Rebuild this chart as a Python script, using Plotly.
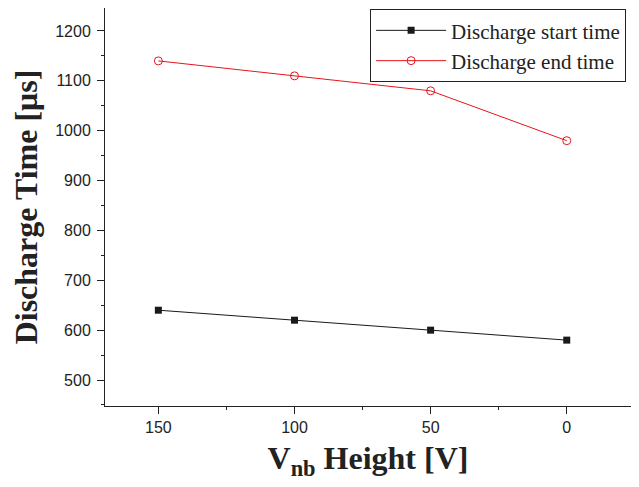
import plotly.graph_objects as go

vnb = [150, 100, 50, 0]
start_time = [640, 620, 600, 580]
end_time = [1140, 1110, 1080, 980]
x_ticks = [150, 100, 50, 0]
y_ticks = [500, 600, 700, 800, 900, 1000, 1100, 1200]

serif = "Liberation Serif, Times New Roman, serif"
sans = "Liberation Sans, Arial, sans-serif"

fig = go.Figure()
fig.add_trace(go.Scatter(
    x=vnb, y=start_time, mode="lines+markers", name="Discharge start time",
    line=dict(color="#1a1a1a", width=1),
    marker=dict(symbol="square", size=7, color="#1a1a1a"),
))
fig.add_trace(go.Scatter(
    x=vnb, y=end_time, mode="lines+markers", name="Discharge end time",
    line=dict(color="#e8141c", width=1),
    marker=dict(symbol="circle-open", size=8, color="#e8141c", line=dict(width=1)),
))

fig.update_layout(
    width=623, height=479,
    margin=dict(l=97, r=0, t=0, b=81),
    paper_bgcolor="white", plot_bgcolor="white",
    showlegend=True,
    legend=dict(
        x=0.504, y=0.997, xanchor="left", yanchor="top",
        bordercolor="#222", borderwidth=1, bgcolor="white",
        font=dict(family=serif, size=21, color="#222"),
        tracegroupgap=0, itemwidth=70,
    ),
    xaxis=dict(
        range=[169.6, -23.6], tickvals=x_ticks, ticks="outside", ticklen=7,
        tickcolor="#222", showline=True, linecolor="#222", linewidth=1, mirror=True,
        showgrid=False, zeroline=False, automargin=False,
        tickfont=dict(family=sans, size=16, color="#222"),
        minor=dict(ticks="outside", ticklen=3, tickcolor="#222", dtick=25, showgrid=False),
        title=dict(text="<b>V<sub>nb</sub> Height [V]</b>", font=dict(family=serif, size=32, color="#222"), standoff=11),
    ),
    yaxis=dict(
        range=[447.9, 1246.1], tickvals=y_ticks, ticks="outside", ticklen=7,
        tickcolor="#222", showline=True, linecolor="#222", linewidth=1, mirror=False,
        showgrid=False, zeroline=False, automargin=False, ticklabelstandoff=3,
        tickfont=dict(family=sans, size=16, color="#222"),
        minor=dict(ticks="outside", ticklen=3, tickcolor="#222", dtick=50, showgrid=False),
        title=dict(text="<b>Discharge Time [μs]</b>", font=dict(family=serif, size=32, color="#222"), standoff=12),
    ),
)

fig.write_html("out.html")
